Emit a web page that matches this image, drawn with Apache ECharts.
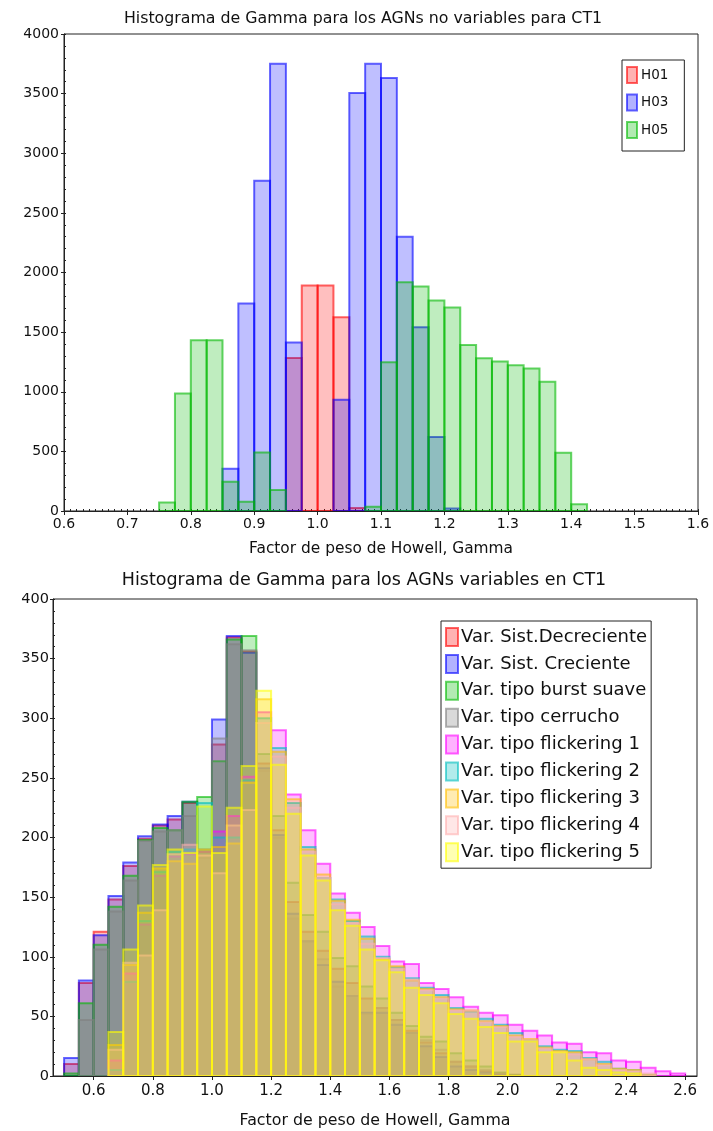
<!DOCTYPE html>
<html><head><meta charset="utf-8">
<script src="https://cdn.jsdelivr.net/npm/echarts@6/dist/echarts.min.js"></script>
<style>html,body{margin:0;padding:0;background:#fff}#c{width:713px;height:1131px}</style>
</head><body><div id="c"></div>
<script>
// ---------- Top chart data (bin width 0.025) ----------
const topTitle = 'Histograma de Gamma para los AGNs no variables para CT1';
const topBinWidth = 0.025;
const topBinStart = [0.75,0.775,0.8,0.825,0.85,0.875,0.9,0.925,0.95,0.975,1.0,1.025,1.05,1.075,1.1,1.125,1.15,1.175,1.2,1.225,1.25,1.275,1.3,1.325,1.35,1.375,1.4];
const topNames = ['H01','H03','H05'];
const H01 = [0,0,0,0,0,0,0,0,1283,1890,1890,1625,25,0,0,0,0,0,0,0,0,0,0,0,0,0,0];
const H03 = [0,0,0,0,355,1740,2770,3750,1412,0,0,932,3505,3750,3632,2300,1540,620,20,0,0,0,0,0,0,0,0];
const H05 = [72,985,1432,1432,245,78,490,176,0,0,0,0,0,36,1248,1918,1882,1765,1706,1393,1281,1253,1222,1194,1083,489,56];
const topXTicks = [0.6,0.7,0.8,0.9,1.0,1.1,1.2,1.3,1.4,1.5,1.6];

// ---------- Bottom chart data (bin width 0.05) ----------
const botTitle = 'Histograma de Gamma para los AGNs variables en CT1';
const botBinWidth = 0.05;
const botBinStart = [0.5,0.55,0.6,0.65,0.7,0.75,0.8,0.85,0.9,0.95,1.0,1.05,1.1,1.15,1.2,1.25,1.3,1.35,1.4,1.45,1.5,1.55,1.6,1.65,1.7,1.75,1.8,1.85,1.9,1.95,2.0,2.05,2.1,2.15,2.2,2.25,2.3,2.35,2.4,2.45,2.5,2.55];
const botNames = ['Var. Sist.Decreciente','Var. Sist. Creciente','Var. tipo burst suave','Var. tipo cerrucho','Var. tipo flickering 1','Var. tipo flickering 2','Var. tipo flickering 3','Var. tipo flickering 4','Var. tipo flickering 5'];
const sistDecreciente = [10,78,121,148,176,199,210,215,229,188,278,368,356,262,206,146,121,105,90,78,65,57,47,38,28,19,12,8,4,2,1,0,0,0,0,0,0,0,0,0,0,0];
const sistCreciente   = [15,80,118,151,179,201,211,218,230,190,299,369,355,258,202,136,113,93,79,67,53,53,43,36,25,16,8,5,3,1,0,0,0,0,0,0,0,0,0,0,0,0];
const burstSuave      = [2,61,110,142,168,198,208,206,230,234,264,366,369,270,218,162,135,121,99,92,75,65,53,42,33,29,19,13,8,3,1,0,0,0,0,0,0,0,0,0,0,0];
const cerrucho        = [0,47,106,138,164,197,205,206,218,183,283,362,357,256,200,132,113,98,75,67,52,57,47,36,30,22,12,8,5,2,0,0,0,0,0,0,0,0,0,0,0,0];
const flickering1     = [0,0,0,13,86,127,168,184,186,188,205,218,251,305,290,236,206,178,153,137,125,109,96,94,78,73,66,58,53,51,43,38,34,28,27,20,19,13,12,7,4,2];
const flickering2     = [0,0,0,5,79,130,171,188,190,229,200,200,248,300,275,229,192,166,148,130,117,100,91,82,74,68,57,54,48,43,36,30,25,22,21,15,12,6,5,1,0,0];
const flickering3     = [0,0,0,26,93,137,174,180,178,190,192,195,246,316,272,232,190,169,147,131,115,98,92,80,73,66,56,55,46,42,34,31,24,21,20,14,10,6,5,1,0,0];
const flickering4     = [0,0,0,22,95,101,139,186,194,185,170,210,223,296,268,225,188,166,144,128,111,99,90,81,72,65,55,55,45,41,33,30,23,20,18,14,9,5,4,2,0,0];
const flickering5     = [0,0,0,37,106,143,177,190,187,226,187,225,260,323,261,220,185,164,139,126,106,97,87,74,68,61,52,48,41,36,29,29,20,20,13,7,5,3,2,0,0,0];
const botXTicks = [0.6,0.8,1.0,1.2,1.4,1.6,1.8,2.0,2.2,2.4,2.6];

// ---------- styling ----------
const topColors = [[255,0,0],[0,0,255],[0,185,0]];
const botColors = [[255,0,0],[0,0,255],[0,185,0],[128,128,128],[255,0,255],[0,190,190],[255,190,0],[255,175,175],[255,255,0]];
const FILL_A = 0.25, STROKE_A = 0.6;
const rgba = (c,a) => `rgba(${c[0]},${c[1]},${c[2]},${a})`;
const FONT = 'DejaVu Sans';

function steps(a, b, s) { const out = []; const n = Math.round((b - a) / s); for (let i = 0; i <= n; i++) out.push(+(a + i * s).toFixed(4)); return out; }

function histSeries(name, starts, vals, width, color, xi, yi) {
  return {
    type: 'custom', name, xAxisIndex: xi, yAxisIndex: yi, clip: true,
    itemStyle: { color: rgba(color, FILL_A), borderColor: rgba(color, STROKE_A), borderWidth: 2 },
    data: starts.map((s, i) => [s, vals[i]]),
    renderItem: function (params, api) {
      const x0 = api.value(0), v = api.value(1);
      if (!v) return null;
      const p0 = api.coord([x0, 0]);
      const p1 = api.coord([x0 + width, v]);
      return { type: 'rect',
        shape: { x: p0[0], y: p1[1], width: p1[0] - p0[0], height: p0[1] - p1[1] },
        style: { fill: rgba(color, FILL_A), stroke: rgba(color, STROKE_A), lineWidth: 2 } };
    }
  };
}

const topVals = [H01, H03, H05];
const botVals = [sistDecreciente, sistCreciente, burstSuave, cerrucho, flickering1, flickering2, flickering3, flickering4, flickering5];

const series = [];
topNames.forEach((n, i) => series.push(histSeries(n, topBinStart, topVals[i], topBinWidth, topColors[i], 0, 0)));
botNames.forEach((n, i) => series.push(histSeries(n, botBinStart, botVals[i], botBinWidth, botColors[i], 2, 2)));

const axisLineStyle = { color: '#222', width: 1 };
const option = {
  animation: false,
  backgroundColor: '#fff',
  title: [
    { text: topTitle, left: 358, top: 6, textAlign: 'center', textStyle: { fontFamily: FONT, fontSize: 15.8, fontWeight: 'normal', color: '#111' } },
    { text: botTitle, left: 359, top: 566, textAlign: 'center', textStyle: { fontFamily: FONT, fontSize: 17.5, fontWeight: 'normal', color: '#111' } }
  ],
  grid: [
    { left: 64, top: 34, width: 634, height: 477, show: true, borderColor: '#222', borderWidth: 1 },
    { left: 53, top: 599, width: 644, height: 477, show: true, borderColor: '#222', borderWidth: 1 }
  ],
  legend: [
    { orient: 'vertical', left: 622, top: 60, padding: [6, 16, 12, 4], itemWidth: 10, itemHeight: 16, itemGap: 9.5, itemStyle: {borderWidth: 2},
      borderColor: '#222', borderWidth: 1, borderRadius: 0, backgroundColor: '#fff', selectedMode: false,
      textStyle: { fontFamily: FONT, fontSize: 13.5, color: '#111', padding: [0,0,0,-1] },
      data: topNames.map((n, i) => ({ name: n, icon: 'rect', itemStyle: { color: rgba(topColors[i], 0.3), borderColor: rgba(topColors[i], 0.6), borderWidth: 2 } })) },
    { orient: 'vertical', left: 441, top: 621, padding: [6, 4, 6, 4], itemWidth: 12, itemHeight: 18, itemGap: 6.9, itemStyle: {borderWidth: 2},
      borderColor: '#222', borderWidth: 1, borderRadius: 0, backgroundColor: '#fff', selectedMode: false,
      textStyle: { fontFamily: FONT, fontSize: 18, color: '#111', padding: [0,0,0,-2] },
      data: botNames.map((n, i) => ({ name: n, icon: 'rect', itemStyle: { color: rgba(botColors[i], 0.3), borderColor: rgba(botColors[i], 0.6), borderWidth: 2 } })) }
  ],
  xAxis: [
    { type: 'value', gridIndex: 0, min: 0.6, max: 1.6, interval: 0.1,
      name: 'Factor de peso de Howell, Gamma', nameLocation: 'middle', nameGap: 30,
      nameTextStyle: { fontFamily: FONT, fontSize: 15.4, color: '#111' },
      axisLine: { show: true, lineStyle: axisLineStyle }, axisTick: { show: true, length: 4, lineStyle: axisLineStyle },
      axisLabel: { fontFamily: FONT, fontSize: 14, color: '#111', margin: 6, formatter: v => v.toFixed(1), customValues: topXTicks },
      splitLine: { show: false } },
    { type: 'value', gridIndex: 0, min: 0.6, max: 1.6, position: 'bottom',
      axisLine: { show: false }, axisLabel: { show: false }, splitLine: { show: false },
      axisTick: { show: true, inside: true, length: 2, lineStyle: axisLineStyle, customValues: steps(0.6, 1.6, 0.01) } },
    { type: 'value', gridIndex: 1, min: 0.4625, max: 2.64,
      name: 'Factor de peso de Howell, Gamma', nameLocation: 'middle', nameGap: 37,
      nameTextStyle: { fontFamily: FONT, fontSize: 15.8, color: '#111' },
      axisLine: { show: true, lineStyle: axisLineStyle },
      axisTick: { show: true, length: 4, lineStyle: axisLineStyle, customValues: botXTicks },
      axisLabel: { fontFamily: FONT, fontSize: 15, color: '#111', margin: 8, formatter: v => v.toFixed(1), customValues: botXTicks },
      splitLine: { show: false } },
    { type: 'value', gridIndex: 1, min: 0.4625, max: 2.64, position: 'bottom',
      axisLine: { show: false }, axisLabel: { show: false }, splitLine: { show: false },
      axisTick: { show: true, inside: true, length: 2, lineStyle: axisLineStyle, customValues: steps(0.5, 2.6, 0.05) } }
  ],
  yAxis: [
    { type: 'value', gridIndex: 0, min: 0, max: 4000, interval: 500,
      axisLine: { show: true, lineStyle: axisLineStyle }, axisTick: { show: true, length: 3, lineStyle: axisLineStyle },
      axisLabel: { fontFamily: FONT, fontSize: 14, color: '#111', margin: 5, formatter: v => String(v) }, splitLine: { show: false } },
    { type: 'value', gridIndex: 0, min: 0, max: 4000, position: 'left',
      axisLine: { show: false }, axisLabel: { show: false }, splitLine: { show: false },
      axisTick: { show: true, inside: true, length: 2, lineStyle: axisLineStyle, customValues: steps(0, 4000, 100) } },
    { type: 'value', gridIndex: 1, min: 0, max: 400, interval: 50,
      axisLine: { show: true, lineStyle: axisLineStyle }, axisTick: { show: true, length: 3, lineStyle: axisLineStyle },
      axisLabel: { fontFamily: FONT, fontSize: 14.5, color: '#111', margin: 4, formatter: v => String(v) }, splitLine: { show: false } },
    { type: 'value', gridIndex: 1, min: 0, max: 400, position: 'left',
      axisLine: { show: false }, axisLabel: { show: false }, splitLine: { show: false },
      axisTick: { show: true, inside: true, length: 2, lineStyle: axisLineStyle, customValues: steps(0, 400, 10) } }
  ],
  series
};
const chart = echarts.init(document.getElementById('c'), null, { renderer: 'canvas' });
chart.setOption(option);
</script></body></html>
